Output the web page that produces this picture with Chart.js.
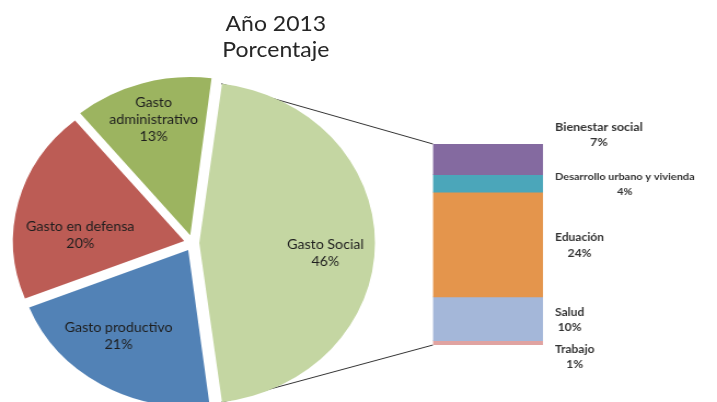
<!DOCTYPE html>
<html><head><meta charset="utf-8">
<script src="https://cdn.jsdelivr.net/npm/chart.js@4/dist/chart.umd.min.js"></script>
<style>
html,body{margin:0;padding:0;background:#fff;overflow:hidden;width:717px;height:402px}
#wrap{position:absolute;left:0;top:0;width:655px;height:402px;transform:scaleX(1.0947);transform-origin:0 0;overflow:hidden}
#pie,#bar{position:absolute;left:0;top:0}
.t{position:absolute;left:0;top:10px;width:504px;text-align:center;font-family:Lato,sans-serif;font-size:21px;line-height:26px;color:#262626}
</style></head><body>
<div id="wrap">
<canvas id="pie" width="655" height="460"></canvas>
<canvas id="bar" width="655" height="402"></canvas>
<div class="t">Año 2013<br>Porcentaje</div>
</div>
<script>
// ---- data ----
const pieCategories = ['Gasto Social', 'Gasto productivo', 'Gasto en defensa', 'Gasto administrativo'];
const pieValues = [46, 21, 20, 13];
const barCategories = ['Bienestar social', 'Desarrollo urbano y vivienda', 'Eduación', 'Salud', 'Trabajo'];
const barValues = [7, 4, 24, 10, 1];

// ---- styles ----
const pieColors = ['#C4D6A2', '#5282B6', '#BC5C55', '#9CB460'];
const barColors = ['#846AA0', '#4BA6BA', '#E4954C', '#A4B7D9', '#E0A3A1'];

const barLabelPlugin = {
  id: 'barLabels',
  afterDatasetsDraw(chart, args, opts) {
    const ctx = chart.ctx;
    ctx.save();
    ctx.fillStyle = opts.color;
    ctx.textAlign = 'center';
    ctx.textBaseline = 'middle';
    chart.data.datasets.forEach((ds, i) => {
      const el = chart.getDatasetMeta(i).data[0];
      const p = el.getProps(['x', 'y', 'base', 'width'], true);
      const right = p.x + p.width / 2;
      const cy = (p.y + p.base) / 2 + opts.dy[i];
      const size = opts.sizes[i];
      ctx.font = 'bold ' + size + 'px Lato, sans-serif';
      const lines = [ds.label, ds.data[0] + '%'];
      const w = Math.max(...lines.map(l => ctx.measureText(l).width));
      const cx = right + opts.gap + w / 2;
      const lh = opts.lineHeight;
      lines.forEach((l, k) => ctx.fillText(l, cx, cy + (k - (lines.length - 1) / 2) * lh));
    });
    ctx.restore();
  }
};

const barChart = new Chart(document.getElementById('bar'), {
  type: 'bar',
  data: {
    labels: [''],
    datasets: barCategories.map((c, i) => ({
      label: c, data: [barValues[i]], backgroundColor: barColors[i], borderWidth: 0,
      barPercentage: 1, categoryPercentage: 1
    }))
  },
  options: {
    responsive: false, animation: false,
    layout: { padding: { left: 395.5, right: 159, top: 144, bottom: 57 } },
    scales: {
      x: { display: false, stacked: true },
      y: { display: false, stacked: true, reverse: true, min: 0, max: barValues.reduce((a, b) => a + b, 0) }
    },
    plugins: {
      legend: { display: false }, tooltip: { enabled: false },
      barLabels: { color: '#333', gap: 11, lineHeight: 15.5, sizes: [11.5, 10, 11, 11, 11], dy: [-24.5, 1, 1, 1, 14] }
    }
  },
  plugins: [barLabelPlugin]
});

function arcPoint(arc, angle) {
  const o = (arc.options.offset || 0) / 4;
  const half = (arc.startAngle + arc.endAngle) / 2;
  const circ = arc.endAngle - arc.startAngle;
  const r = arc.outerRadius + o * (1 - Math.sin(Math.min(Math.PI, circ)));
  return { x: arc.x + Math.cos(half) * o + Math.cos(angle) * r, y: arc.y + Math.sin(half) * o + Math.sin(angle) * r };
}

const connectorPlugin = {
  id: 'connectors',
  beforeDatasetsDraw(chart) {
    const arc = chart.getDatasetMeta(0).data[0];
    const first = barChart.getDatasetMeta(0).data[0].getProps(['x', 'y', 'base', 'width'], true);
    const last = barChart.getDatasetMeta(barValues.length - 1).data[0].getProps(['x', 'y', 'base', 'width'], true);
    const a = arcPoint(arc, arc.startAngle), b = arcPoint(arc, arc.endAngle);
    const ctx = chart.ctx;
    ctx.save();
    ctx.strokeStyle = '#333';
    ctx.lineWidth = 1;
    ctx.beginPath();
    ctx.moveTo(a.x, a.y); ctx.lineTo(first.x - first.width / 2, Math.min(first.y, first.base));
    ctx.moveTo(b.x, b.y); ctx.lineTo(last.x - last.width / 2, Math.max(last.y, last.base));
    ctx.stroke();
    ctx.restore();
  }
};

const pieLabelPlugin = {
  id: 'pieLabels',
  afterDatasetsDraw(chart, args, opts) {
    const ctx = chart.ctx;
    const meta = chart.getDatasetMeta(0);
    ctx.save();
    ctx.fillStyle = opts.color;
    ctx.font = opts.size + 'px Lato, sans-serif';
    ctx.textAlign = 'center';
    ctx.textBaseline = 'middle';
    meta.data.forEach((arc, i) => {
      const mid = (arc.startAngle + arc.endAngle) / 2 + opts.shift[i] * Math.PI / 180;
      const d = arc.outerRadius * opts.frac[i];
      const cx = arc.x + Math.cos(mid) * d, cy = arc.y + Math.sin(mid) * d;
      const name = chart.data.labels[i];
      const lines = (opts.wrap[i] ? name.split(' ') : [name]).concat([chart.data.datasets[0].data[i] + '%']);
      lines.forEach((l, k) => ctx.fillText(l, cx, cy + (k - (lines.length - 1) / 2) * opts.lineHeight));
    });
    ctx.restore();
  }
};

new Chart(document.getElementById('pie'), {
  type: 'pie',
  data: { labels: pieCategories, datasets: [{ data: pieValues, backgroundColor: pieColors, borderWidth: 0, offset: [24, 32, 32, 32] }] },
  options: {
    responsive: false, animation: false, rotation: 7.2,
    layout: { padding: { left: 4, top: 71, right: 307, bottom: 45 } },
    plugins: {
      legend: { display: false }, tooltip: { enabled: false },
      pieLabels: { color: '#1e1e1e', size: 13, lineHeight: 17, frac: [0.78, 0.74, 0.66, 0.82], shift: [4.7, 5.3, -10, 0], wrap: [false, false, false, true] }
    }
  },
  plugins: [connectorPlugin, pieLabelPlugin]
});
</script>
</body></html>
